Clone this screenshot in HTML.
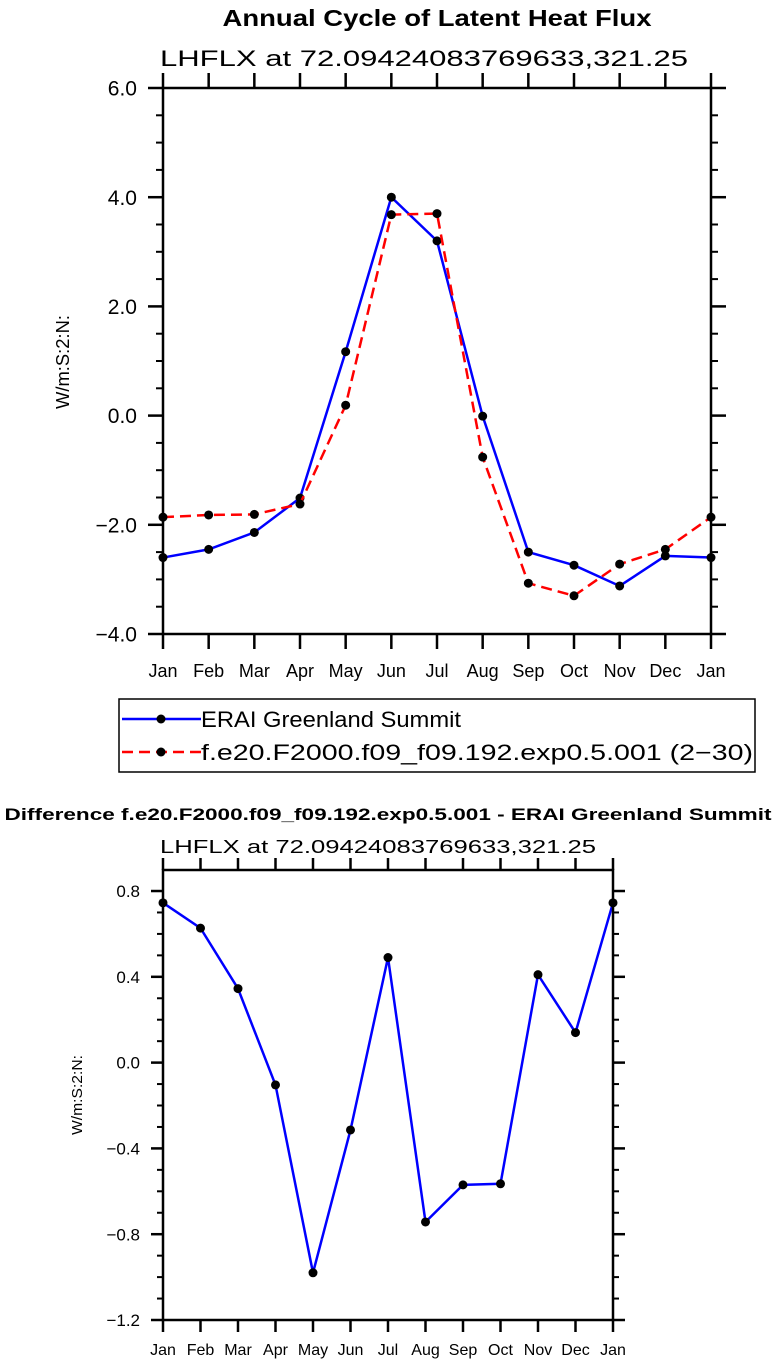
<!DOCTYPE html>
<html><head><meta charset="utf-8"><style>
html,body{margin:0;padding:0;background:#fff;}
svg{display:block;font-family:"Liberation Sans",sans-serif;}
</style></head><body>
<svg id="svg" width="777" height="1364" viewBox="0 0 777 1364">
<text x="437" y="26" font-size="23" font-weight="bold" text-anchor="middle" textLength="429" lengthAdjust="spacingAndGlyphs">Annual Cycle of Latent Heat Flux</text>
<text x="160" y="66" font-size="22" textLength="528" lengthAdjust="spacingAndGlyphs">LHFLX at 72.09424083769633,321.25</text>
<text transform="translate(69,362) rotate(-90)" font-size="18" text-anchor="middle" textLength="94" lengthAdjust="spacingAndGlyphs">W/m:S:2:N:</text>
<g id="top"></g>
<g>
<rect x="119" y="699" width="636" height="73" fill="#fff" stroke="#000" stroke-width="1.5"/>
<g>
<line x1="122" y1="719" x2="201" y2="719" stroke="#0000ff" stroke-width="2.5"/>
<circle cx="161" cy="719" r="4.5" fill="#000"/>
<text x="201" y="727" font-size="22" textLength="260" lengthAdjust="spacingAndGlyphs">ERAI Greenland Summit</text>
</g>
<g>
<line x1="122" y1="752" x2="201" y2="752" stroke="#ff0000" stroke-width="2.5" stroke-dasharray="11,6"/>
<circle cx="161" cy="752" r="4.5" fill="#000"/>
<text x="201" y="760" font-size="22" textLength="552" lengthAdjust="spacingAndGlyphs">f.e20.F2000.f09_f09.192.exp0.5.001 (2−30)</text>
</g>
</g>
<text x="388" y="820" font-size="17" font-weight="bold" text-anchor="middle" textLength="767" lengthAdjust="spacingAndGlyphs">Difference f.e20.F2000.f09_f09.192.exp0.5.001 - ERAI Greenland Summit</text>
<text x="160" y="853" font-size="18" textLength="436" lengthAdjust="spacingAndGlyphs">LHFLX at 72.09424083769633,321.25</text>
<text transform="translate(82,1095) rotate(-90)" font-size="15" text-anchor="middle" textLength="80" lengthAdjust="spacingAndGlyphs">W/m:S:2:N:</text>
<g id="bot"></g>
</svg>
<script>
const months = ["Jan","Feb","Mar","Apr","May","Jun","Jul","Aug","Sep","Oct","Nov","Dec","Jan"];
const eraiValues = [-2.6,-2.45,-2.14,-1.51,1.17,4.0,3.2,-0.01,-2.5,-2.74,-3.12,-2.57,-2.6];
const modelValues = [-1.86,-1.82,-1.81,-1.62,0.19,3.68,3.7,-0.76,-3.07,-3.3,-2.72,-2.45,-1.86];
const diffValues = [0.745,0.627,0.345,-0.104,-0.98,-0.314,0.49,-0.743,-0.57,-0.565,0.41,0.14,0.745];
const topTicks = ["-4.0","-2.0","0.0","2.0","4.0","6.0"];
const botTicks = ["-1.2","-0.8","-0.4","0.0","0.4","0.8"];

const NS="http://www.w3.org/2000/svg";
function mk(parent,tag,attrs){const e=document.createElementNS(NS,tag);for(const k in attrs)e.setAttribute(k,attrs[k]);parent.appendChild(e);return e;}

function drawChart(g,cfg){
  const {x0,x1,y0,y1,vmin,vmax,minor,majorLen,minorLen,tickFont,monFont,monY,labelX,series,ticks} = cfg;
  const n=months.length;
  const xs=i=>x0+(x1-x0)*i/(n-1);
  const ys=v=>y1-(v-vmin)/(vmax-vmin)*(y1-y0);
  series.forEach(s=>{
    const pts=s.values.map((v,i)=>xs(i)+","+ys(v)).join(" ");
    const pl=mk(g,"polyline",{points:pts,fill:"none",stroke:s.color,"stroke-width":2.5});
    if(s.dash)pl.setAttribute("stroke-dasharray",s.dash);
    
    
    s.values.forEach((v,i)=>{
      const c=mk(g,"circle",{cx:xs(i),cy:ys(v),r:4.5,fill:"#000"});
      
      
    });
  });
  const fr=mk(g,"rect",{x:x0,y:y0,width:x1-x0,height:y1-y0,fill:"none",stroke:"#000","stroke-width":2.5});
  
  
  months.forEach((m,i)=>{
    const x=xs(i);
    mk(g,"line",{x1:x,y1:y1,x2:x,y2:y1+majorLen,stroke:"#000","stroke-width":2.5});
    mk(g,"line",{x1:x,y1:y0,x2:x,y2:y0-majorLen,stroke:"#000","stroke-width":2.5});
    const t=mk(g,"text",{x:x,y:monY,"font-size":monFont,"text-anchor":"middle"});
    t.textContent=m;
    
    
  });
  ticks.forEach((lab,j)=>{
    const v=parseFloat(lab);
    const y=ys(v);
    mk(g,"line",{x1:x0-majorLen,y1:y,x2:x0,y2:y,stroke:"#000","stroke-width":2.5});
    mk(g,"line",{x1:x1,y1:y,x2:x1+majorLen,y2:y,stroke:"#000","stroke-width":2.5});
    const t=mk(g,"text",{x:labelX,y:y+tickFont*0.36,"font-size":tickFont,"text-anchor":"end"});
    t.textContent=lab.replace("-","−");
    
    
    if(j<ticks.length-1){
      const step=(parseFloat(ticks[j+1])-v)/(minor+1);
      for(let k=1;k<=minor;k++){
        const yy=ys(v+step*k);
        mk(g,"line",{x1:x0-minorLen,y1:yy,x2:x0,y2:yy,stroke:"#000","stroke-width":2});
        mk(g,"line",{x1:x1,y1:yy,x2:x1+minorLen,y2:yy,stroke:"#000","stroke-width":2});
      }
    }
  });
}
drawChart(document.getElementById("top"),{x0:163,x1:711,y0:88,y1:634,vmin:-4,vmax:6,minor:3,majorLen:15,minorLen:7,tickFont:21,monFont:18,monY:677,labelX:137,ticks:topTicks,
  series:[{name:'erai',values:eraiValues,color:"#0000ff"},{name:'model',values:modelValues,color:"#ff0000",dash:"11,6"}]});
drawChart(document.getElementById("bot"),{x0:163,x1:613,y0:870,y1:1320,vmin:-1.2,vmax:0.898,minor:3,majorLen:12,minorLen:6,tickFont:17,monFont:16,monY:1355,labelX:140,ticks:botTicks,
  series:[{name:'difference',values:diffValues,color:"#0000ff"}]});
</script>
</body></html>
